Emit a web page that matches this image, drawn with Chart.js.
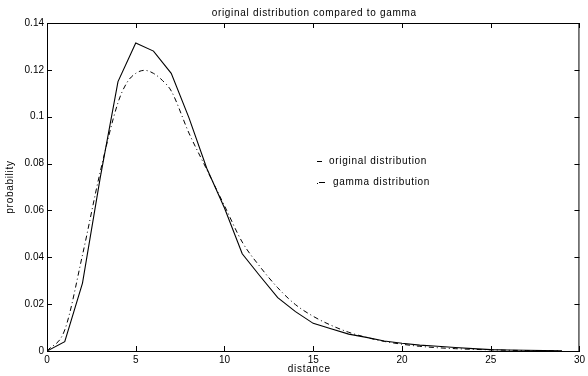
<!DOCTYPE html>
<html>
<head>
<meta charset="utf-8">
<script src="https://cdn.jsdelivr.net/npm/chart.js@4"></script>
<style>
  html, body { margin: 0; padding: 0; background: #fff; }
  #wrap { width: 588px; height: 376px; }
</style>
</head>
<body>
<div id="wrap"><canvas id="chart" width="588" height="376"></canvas></div>
<script>
// values
const distance = [0, 1, 2, 3, 4, 5, 6, 7, 8, 9, 10, 11, 12, 13, 14, 15, 16, 17, 18, 19, 20, 21, 22, 23, 24, 25, 26, 27, 28, 29];
const originalProb = [0, 0.004, 0.029, 0.074, 0.115, 0.1315, 0.128, 0.1185, 0.0995, 0.078, 0.061, 0.0415, 0.032, 0.0228, 0.0168, 0.0118, 0.0095, 0.0072, 0.0058, 0.0043, 0.0033, 0.0025, 0.002, 0.0015, 0.001, 0.0006, 0.0004, 0.0003, 0.0002, 0.0001];

const gammaX = [0, 1, 2, 3, 4, 4.5, 5, 5.5, 6, 6.5, 7, 8, 9, 10, 11, 12, 13, 14, 15, 16, 17, 18, 19, 20, 21, 22, 23, 24, 25, 26, 27, 28, 29];
const gammaProb = [0, 0.009, 0.041, 0.0765, 0.106, 0.1145, 0.1185, 0.1198, 0.1185, 0.1155, 0.111, 0.093, 0.0775, 0.062, 0.0465, 0.036, 0.027, 0.0198, 0.0148, 0.011, 0.008, 0.0058, 0.0041, 0.0029, 0.002, 0.0014, 0.001, 0.0007, 0.0005, 0.0003, 0.0002, 0.0001, 0.0001];

const xTicks = [0, 5, 10, 15, 20, 25, 30];
const yTicks = [0, 0.02, 0.04, 0.06, 0.08, 0.1, 0.12, 0.14];

const titleText = "original distribution compared to gamma";
const xLabel = "distance";
const yLabel = "probability";
const legendLabels = ["original distribution", "gamma distribution"];

const FONT = "'Liberation Sans', Arial, Helvetica, sans-serif";

function drawText(ctx, txt, x, y, align) {
  ctx.save();
  try { ctx.letterSpacing = "0.7px"; } catch (e) {}
  ctx.font = "10px " + FONT;
  ctx.fillStyle = "#000";
  ctx.textAlign = align || "left";
  ctx.textBaseline = "middle";
  ctx.fillText(txt, x, y);
  ctx.restore();
}

// matlab look: box, inward ticks, loose text
const matlabFrame = {
  id: "matlabFrame",
  afterDraw(chart) {
    const { ctx, chartArea: a, scales } = chart;
    const xs = scales.x, ys = scales.y;
    const tl = 5;

    ctx.save();
    ctx.strokeStyle = "#000";
    ctx.lineWidth = 1;
    ctx.beginPath();
    ctx.moveTo(a.left + 0.5, a.top + 0.5);
    ctx.lineTo(a.right - 0.5, a.top + 0.5);
    ctx.lineTo(a.right - 0.5, a.bottom);
    ctx.stroke();

    ctx.beginPath();
    xTicks.forEach((v) => {
      const px = Math.round(xs.getPixelForValue(v)) + 0.5;
      ctx.moveTo(px, a.bottom);
      ctx.lineTo(px, a.bottom - tl);
      ctx.moveTo(px, a.top);
      ctx.lineTo(px, a.top + tl);
    });
    yTicks.forEach((v) => {
      const py = Math.round(ys.getPixelForValue(v)) + 0.5;
      ctx.moveTo(a.left, py);
      ctx.lineTo(a.left + tl, py);
      ctx.moveTo(a.right, py);
      ctx.lineTo(a.right - tl, py);
    });
    ctx.stroke();

    // legend entries written as plain text like gtext
    ctx.beginPath();
    ctx.moveTo(317, 161.5);
    ctx.lineTo(322, 161.5);
    ctx.stroke();
    drawText(ctx, legendLabels[0], 329, 161);

    ctx.fillStyle = "#000";
    ctx.fillRect(317, 183, 1, 1);
    ctx.beginPath();
    ctx.moveTo(319, 182.5);
    ctx.lineTo(325, 182.5);
    ctx.stroke();
    drawText(ctx, legendLabels[1], 333, 182);
    ctx.restore();

    drawText(ctx, titleText, (a.left + a.right) / 2 + 1, 13, "center");
    drawText(ctx, xLabel, (a.left + a.right) / 2 - 4, 369, "center");

    ctx.save();
    ctx.translate(10, (a.top + a.bottom) / 2);
    ctx.rotate(-Math.PI / 2);
    drawText(ctx, yLabel, 0, 0, "center");
    ctx.restore();
  },
};

new Chart(document.getElementById("chart"), {
  type: "line",
  data: {
    datasets: [
      {
        label: legendLabels[0],
        data: distance.map((d, i) => ({ x: d, y: originalProb[i] })),
        borderColor: "#000",
        borderWidth: 1.1,
        pointRadius: 0,
        tension: 0,
      },
      {
        label: legendLabels[1],
        data: gammaX.map((d, i) => ({ x: d, y: gammaProb[i] })),
        borderColor: "#000",
        borderWidth: 1,
        borderDash: [5, 3, 1, 3],
        pointRadius: 0,
        cubicInterpolationMode: "monotone",
      },
    ],
  },
  options: {
    responsive: false,
    animation: false,
    events: [],
    layout: { padding: { top: 23, right: 6, left: 0, bottom: 0 } },
    plugins: {
      legend: { display: false },
      title: { display: false },
      tooltip: { enabled: false },
    },
    scales: {
      x: {
        type: "linear",
        min: 0,
        max: 30,
        afterFit: (s) => { s.height = 25; },
        afterBuildTicks: (s) => { s.ticks = xTicks.map((v) => ({ value: v })); },
        grid: { display: false, drawTicks: false },
        border: { display: true, color: "#000", width: 1 },
        ticks: {
          padding: 3,
          color: "#000",
          font: { family: FONT, size: 10 },
          maxRotation: 0,
        },
      },
      y: {
        type: "linear",
        min: 0,
        max: 0.14,
        afterFit: (s) => { s.width = 47; },
        afterBuildTicks: (s) => { s.ticks = yTicks.map((v) => ({ value: v })); },
        grid: { display: false, drawTicks: false },
        border: { display: true, color: "#000", width: 1 },
        ticks: {
          padding: 3,
          color: "#000",
          font: { family: FONT, size: 10 },
          callback: (v) => String(Math.round(v * 100) / 100),
        },
      },
    },
  },
  plugins: [matlabFrame],
});
</script>
</body>
</html>
